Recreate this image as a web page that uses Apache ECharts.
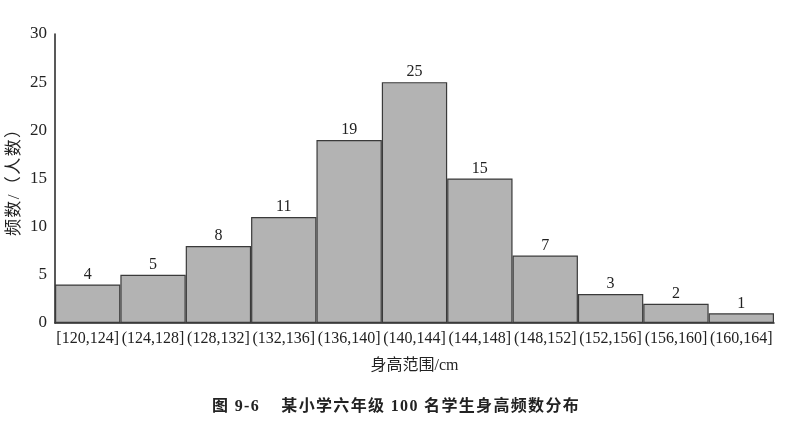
<!DOCTYPE html>
<html>
<head>
<meta charset="utf-8">
<script src="https://cdn.jsdelivr.net/npm/echarts@6/dist/echarts.min.js"></script>
<style>html,body{margin:0;padding:0;background:#fff}#c{width:795px;height:428px}</style>
</head>
<body>
<div id="c"></div>
<script>
const categories = ['[120,124]','(124,128]','(128,132]','(132,136]','(136,140]','(140,144]','(144,148]','(148,152]','(152,156]','(156,160]','(160,164]'];
const frequencies = [4,5,8,11,19,25,15,7,3,2,1];
const yTicks = {min:0, max:30, interval:5};
const xName = '身高范围/cm';
const yName = '频数/（人数）';
const caption = '图 9-6    某小学六年级 100 名学生身高频数分布';

const FONT = '"Liberation Serif", "Noto Sans CJK SC", serif';
const spaced = caption.split('').join('\u200A');
const chart = echarts.init(document.getElementById('c'), null, {renderer:'canvas'});
chart.setOption({
  animation:false,
  backgroundColor:'#fff',
  title:{
    text:spaced, left:207, top:394,
    textStyle:{fontFamily:FONT, fontSize:16, fontWeight:'bold', color:'#222'}
  },
  grid:{left:55, right:21, top:34, bottom:105, containLabel:false, outerBoundsMode:'none'},
  xAxis:{
    type:'category', data:categories,
    name:xName, nameLocation:'middle', nameGap:35, nameMoveOverlap:false,
    nameTextStyle:{fontFamily:FONT, fontSize:16, color:'#222'},
    axisLine:{lineStyle:{color:'#222', width:1.5}},
    axisTick:{show:false},
    axisLabel:{interval:0, fontFamily:FONT, fontSize:16, color:'#222', margin:8},
    splitLine:{show:false}
  },
  yAxis:{
    type:'value', min:yTicks.min, max:yTicks.max, interval:yTicks.interval,
    name:yName.split('').join('\u200A'), nameLocation:'middle', nameGap:32, nameRotate:90, nameMoveOverlap:false,
    nameTextStyle:{fontFamily:FONT, fontSize:17, color:'#222'},
    axisLine:{show:true, lineStyle:{color:'#222', width:1.5}},
    axisTick:{show:false},
    axisLabel:{fontFamily:FONT, fontSize:17, color:'#222', margin:8},
    splitLine:{show:false}
  },
  series:[{
    type:'bar', data:frequencies, barCategoryGap:0, barGap:0,
    itemStyle:{color:'#b3b3b3', borderColor:'#3a3a3a', borderWidth:1.2},
    label:{show:true, position:'top', distance:2, fontFamily:FONT, fontSize:16, color:'#222'}
  }]
});
</script>
</body>
</html>
